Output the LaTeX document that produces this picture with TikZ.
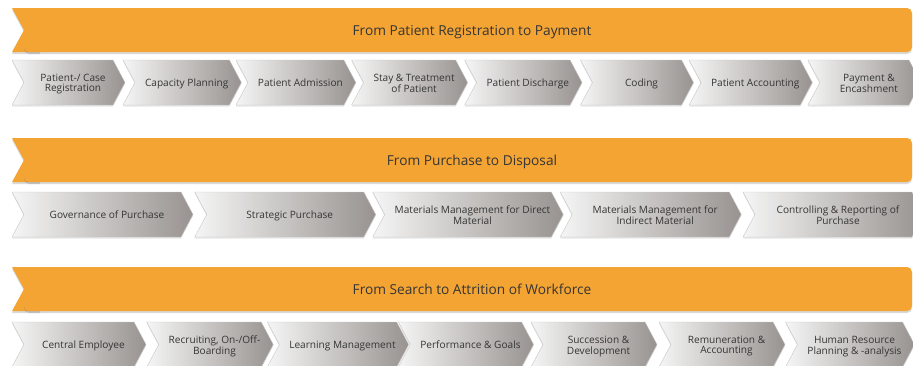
\documentclass[tikz,border=0pt]{standalone}
\usepackage{fontspec}
\setmainfont{Open Sans}
\usetikzlibrary{shapes.symbols,shadows}
\definecolor{bannerorange}{HTML}{F4A432}
\definecolor{chevlight}{HTML}{F5F5F5}
\definecolor{chevdark}{HTML}{989390}
\definecolor{txtgray}{HTML}{353535}
% chevron text sits a bit right of and below the middle
\newcommand\chevtext[1]{\raisebox{-2pt}[\height][\depth]{\begin{tabular}{@{\hspace{9pt}}c@{}}#1\end{tabular}}}

\begin{document}
\begin{tikzpicture}[x=1pt, y=-1pt,
  chev/.style={shape=signal, signal from=west, signal to=east,
    signal pointer angle=124, minimum height=45pt, inner sep=1pt,
    draw=gray!45, line width=0.4pt, left color=chevlight, right color=chevdark,
    text=txtgray, font=\fontsize{10.1}{10.6}\selectfont,
    drop shadow={opacity=0.2, shadow xshift=0pt, shadow yshift=-1.5pt}},
  bannerbar/.style={rectangle, rounded corners=5pt, fill=bannerorange,
    minimum width=888pt, minimum height=44pt, text=txtgray, text depth=0pt,
    font=\fontsize{13.7}{15}\selectfont,
    drop shadow={opacity=0.3, shadow xshift=0pt, shadow yshift=-2pt}},
  bannertail/.style={fill=bannerorange,
    drop shadow={opacity=0.3, shadow xshift=0pt, shadow yshift=-2pt}}]

  \useasboundingbox (0,0) rectangle (913,365);
  \clip (0,0) rectangle (913,365);

  \newcommand\Xa{113.7}
  \newcommand\Xb{182.75}
  \newcommand\Xc{128}

  % patient registration to payment
  \path[bannertail] (12,8) -- (40,8) -- (40,52) -- (12,52) -- (24,30) -- cycle;
  \node[bannerbar] (pay) at (468,30) {\hspace{8pt}From Patient Registration to Payment};

  \node[chev, minimum width=113pt] (pay1) at (68.5+0*\Xa, 82.5) {\chevtext{Patient-/ Case\\Registration}};
  \node[chev, minimum width=113pt] (pay2) at (68.5+1*\Xa, 82.5) {\chevtext{Capacity Planning}};
  \node[chev, minimum width=113pt] (pay3) at (68.5+2*\Xa, 82.5) {\chevtext{Patient Admission}};
  \node[chev, minimum width=113pt] (pay4) at (68.5+3*\Xa, 82.5) {\chevtext{Stay \& Treatment\\of Patient}};
  \node[chev, minimum width=113pt] (pay5) at (68.5+4*\Xa, 82.5) {\chevtext{Patient Discharge}};
  \node[chev, minimum width=113pt] (pay6) at (68.5+5*\Xa, 82.5) {\chevtext{Coding}};
  \node[chev, minimum width=113pt] (pay7) at (68.5+6*\Xa, 82.5) {\chevtext{Patient Accounting}};
  \node[chev, minimum width=113pt] (pay8) at (68.5+7*\Xa, 82.5) {\chevtext{Payment \&\\Encashment}};

  % purchase to disposal
  \path[bannertail] (12,138) -- (40,138) -- (40,182) -- (12,182) -- (24,160) -- cycle;
  \node[bannerbar] (buy) at (468,160) {\hspace{8pt}From Purchase to Disposal};

  \node[chev, minimum width=181pt] (buy1) at (102.5+0*\Xb, 214.5) {\chevtext{Governance of Purchase}};
  \node[chev, minimum width=181pt] (buy2) at (102.5+1*\Xb, 214.5) {\chevtext{Strategic Purchase}};
  \node[chev, minimum width=181pt] (buy3) at (102.5+2*\Xb, 214.5) {\chevtext{Materials Management for Direct\\Material}};
  \node[chev, minimum width=181pt] (buy4) at (102.5+3*\Xb, 214.5) {\chevtext{Materials Management for\\Indirect Material}};
  \node[chev, minimum width=181pt] (buy5) at (102.5+4*\Xb, 214.5) {\chevtext{Controlling \& Reporting of\\Purchase}};

  % search to attrition
  \path[bannertail] (12,267) -- (40,267) -- (40,311) -- (12,311) -- (24,289) -- cycle;
  \node[bannerbar] (hr) at (468,289) {\hspace{8pt}From Search to Attrition of Workforce};

  \node[chev, minimum width=134pt] (hr1) at (79, 344.5) {\chevtext{Central Employee}};
  \node[chev, minimum width=126pt] (hr2) at (210+0*\Xc, 344.5) {\chevtext{Recruiting, On-/Off-\\Boarding}};
  \node[chev, minimum width=126pt] (hr3) at (210+1*\Xc, 344.5) {\chevtext{Learning Management}};
  \node[chev, minimum width=126pt] (hr4) at (210+2*\Xc, 344.5) {\chevtext{Performance \& Goals}};
  \node[chev, minimum width=126pt] (hr5) at (210+3*\Xc, 344.5) {\chevtext{Succession \&\\Development}};
  \node[chev, minimum width=126pt] (hr6) at (210+4*\Xc, 344.5) {\chevtext{Remuneration \&\\Accounting}};
  \node[chev, minimum width=126pt] (hr7) at (210+5*\Xc, 344.5) {\chevtext{Human Resource\\Planning \& -analysis}};

\end{tikzpicture}
\end{document}
